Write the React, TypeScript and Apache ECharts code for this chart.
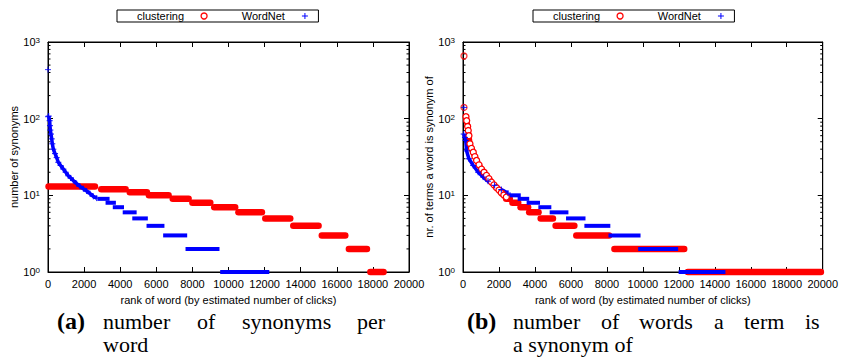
import React, { useEffect, useRef } from 'react';
import * as echarts from 'echarts';

const FONT = "'Liberation Sans Narrow', 'Liberation Sans', Arial, sans-serif";
const SERIF = "'Liberation Serif', 'DejaVu Serif', serif";
const RED = '#ff0000';
const BLUE = '#0000ff';

const X_MIN = 0;
const X_MAX = 20000;
const X_INTERVAL = 2000;
const Y_MIN = 1;
const Y_MAX = 1000;
const minorTickValues = [2, 3, 4, 5, 6, 7, 8, 9, 20, 30, 40, 50, 60, 70, 80, 90, 200, 300, 400, 500, 600, 700, 800, 900];

const legendNames = ['clustering', 'WordNet'];

// (a) number of synonyms per word
// steps: [startRank, endRank, value]
const leftClusteringSteps = [
  [30, 2600, 13], [2950, 4300, 12], [4530, 5480, 11], [5590, 6680, 10],
  [6910, 7790, 9], [8000, 8990, 8], [9210, 10370, 7], [10550, 11850, 6],
  [12040, 13420, 5], [13590, 14990, 4], [15170, 16470, 3], [16670, 17670, 2],
  [17860, 18590, 1],
];
const leftWordNetIsolated = [[0, 436], [0, 106]];
const leftWordNetCurve = [
  [40, 108], [92, 94], [110, 81], [130, 71], [165, 63], [205, 54.5], [240, 47],
  [295, 40], [390, 35], [480, 31], [570, 27], [700, 24.5], [850, 22], [980, 20],
  [1125, 18], [1255, 16.9], [1400, 15.6], [1590, 14.2], [1770, 13.1], [1960, 12.2],
  [2140, 11.4], [2330, 10.5], [2510, 9.7], [2700, 9.2],
];
const leftWordNetSteps = [
  [2850, 3300, 9], [3300, 3650, 8], [3700, 4100, 7], [4250, 4800, 6],
  [4780, 5420, 5], [5570, 6340, 4], [6490, 7600, 3], [7730, 9390, 2],
  [9650, 12150, 1],
];

// (b) number of words a term is a synonym of
const rightClusteringIsolated = [[55, 657], [55, 140]];
const rightClusteringCurve = [
  [165, 106], [204, 94], [259, 79], [292, 70], [330, 60], [386, 47], [470, 41],
  [570, 36.5], [660, 32], [755, 28.5], [890, 25], [1030, 22], [1170, 20],
  [1305, 18.2], [1440, 16.5], [1580, 14.9], [1720, 13.7], [1860, 12.6],
  [2000, 11.7], [2130, 10.8], [2270, 10.1], [2410, 9.5],
];
const rightClusteringSteps = [
  [2400, 2600, 9], [2750, 3070, 8], [3200, 3620, 7], [3680, 4200, 6],
  [4320, 5000, 5], [5150, 6190, 4], [6300, 8120, 3], [8420, 12300, 2],
  [12500, 19900, 1],
];
const rightWordNetIsolated = [[55, 140]];
const rightWordNetCurve = [
  [40, 63], [110, 57], [150, 52], [200, 38], [330, 30], [570, 24.5], [845, 20],
  [1120, 17.3], [1390, 15.3], [1760, 13.5], [2130, 11.9], [2500, 10.7],
];
const rightWordNetSteps = [
  [2500, 3100, 10], [3150, 3570, 9], [3650, 4170, 8], [4300, 4800, 7],
  [4930, 5750, 6], [5840, 6700, 5], [6860, 8080, 4], [8200, 9760, 3],
  [9850, 11850, 2], [12100, 14480, 1],
];

const PLUS = 'path://M0,5L10,5M5,0L5,10';

function stepSeries(name: string, steps: number[][], color: string, width: number, cap: string, xi: number, yi: number) {
  return {
    name,
    type: 'custom',
    xAxisIndex: xi,
    yAxisIndex: yi,
    silent: true,
    clip: false,
    encode: { x: [0, 1], y: 2 },
    data: steps,
    itemStyle: { color },
    renderItem: (_p: any, api: any) => {
      const a = api.coord([api.value(0), api.value(2)]);
      const b = api.coord([api.value(1), api.value(2)]);
      return {
        type: 'line',
        shape: { x1: a[0], y1: a[1], x2: b[0], y2: b[1] },
        style: { stroke: color, lineWidth: width, lineCap: cap },
      };
    },
  };
}

function minorTickSeries(xi: number, yi: number) {
  return {
    type: 'custom',
    xAxisIndex: xi,
    yAxisIndex: yi,
    silent: true,
    clip: false,
    encode: { x: 0, y: 1 },
    data: minorTickValues.map((v) => [X_MIN, v]),
    renderItem: (_p: any, api: any) => {
      const v = api.value(1);
      const a = api.coord([X_MIN, v]);
      const b = api.coord([X_MAX, v]);
      return {
        type: 'group',
        children: [
          { type: 'line', shape: { x1: a[0], y1: a[1], x2: a[0] + 2.5, y2: a[1] }, style: { stroke: '#000', lineWidth: 1 } },
          { type: 'line', shape: { x1: b[0] - 2.5, y1: b[1], x2: b[0], y2: b[1] }, style: { stroke: '#000', lineWidth: 1 } },
        ],
      };
    },
  };
}

function curveLine(name: string, data: number[][], color: string, width: number, symbol: string, size: number, xi: number, yi: number, hollow: boolean) {
  return {
    name,
    type: 'line',
    xAxisIndex: xi,
    yAxisIndex: yi,
    data,
    silent: true,
    clip: false,
    symbol,
    symbolSize: size,
    showAllSymbol: true,
    lineStyle: { color, width, opacity: 1 },
    itemStyle: hollow
      ? { color: '#fff', borderColor: color, borderWidth: 1.3 }
      : { color: 'rgba(0,0,0,0)', borderColor: color, borderWidth: 1 },
  };
}

function scatter(name: string, data: number[][], color: string, symbol: string, size: number, xi: number, yi: number, hollow: boolean) {
  return {
    name,
    type: 'scatter',
    xAxisIndex: xi,
    yAxisIndex: yi,
    data,
    silent: true,
    clip: false,
    symbol,
    symbolSize: size,
    itemStyle: hollow
      ? { color: 'rgba(0,0,0,0)', borderColor: color, borderWidth: 1.3 }
      : { color: 'rgba(0,0,0,0)', borderColor: color, borderWidth: 1 },
  };
}

function xAxes(gridIndex: number) {
  const base = {
    gridIndex,
    type: 'value',
    min: X_MIN,
    max: X_MAX,
    interval: X_INTERVAL,
    splitLine: { show: false },
    axisLine: { show: true, onZero: false, lineStyle: { color: '#000', width: 1 } },
    axisTick: { show: true, inside: true, length: 5, lineStyle: { color: '#000' } },
  };
  return [
    {
      ...base,
      position: 'bottom',
      name: 'rank of word (by estimated number of clicks)',
      nameLocation: 'middle',
      nameGap: 22,
      nameTextStyle: { fontFamily: FONT, fontSize: 11, color: '#000' },
      axisLabel: { show: true, fontFamily: FONT, fontSize: 11, color: '#000', margin: 6, formatter: (v: number) => String(v) },
    },
    { ...base, position: 'top', axisLabel: { show: false } },
  ];
}

function yAxes(gridIndex: number, title: string, gap: number) {
  const base = {
    gridIndex,
    type: 'log',
    logBase: 10,
    min: Y_MIN,
    max: Y_MAX,
    splitLine: { show: false },
    axisLine: { show: true, onZero: false, lineStyle: { color: '#000', width: 1 } },
    axisTick: { show: true, inside: true, length: 5, lineStyle: { color: '#000' } },
  };
  return [
    {
      ...base,
      position: 'left',
      name: title,
      nameLocation: 'middle',
      nameGap: gap,
      nameTextStyle: { fontFamily: FONT, fontSize: 11, color: '#000' },
      axisLabel: {
        show: true,
        margin: 8,
        formatter: (v: number) => `{b|10}{s|${Math.round(Math.log10(v))}}`,
        rich: {
          b: { fontFamily: FONT, fontSize: 11, color: '#000' },
          s: { fontFamily: FONT, fontSize: 8, color: '#000', verticalAlign: 'top', lineHeight: 8 },
        },
      },
    },
    { ...base, position: 'right', axisLabel: { show: false } },
  ];
}

function legend(left: number) {
  return {
    left,
    top: 10,
    orient: 'horizontal',
    align: 'right',
    itemWidth: 30,
    itemHeight: 6,
    itemGap: 34,
    padding: [0, 10, 0, 20],
    borderColor: '#000',
    borderWidth: 1,
    selectedMode: false,
    textStyle: { fontFamily: FONT, fontSize: 11, color: '#000', lineHeight: 12 },
    data: [
      { name: legendNames[0], icon: 'circle', itemStyle: { color: 'rgba(0,0,0,0)', borderColor: RED, borderWidth: 1.3 } },
      { name: legendNames[1], icon: PLUS, itemStyle: { color: 'rgba(0,0,0,0)', borderColor: BLUE, borderWidth: 1 } },
    ],
  };
}

function captionWords(words: string[], xs: number[], y: number) {
  return words.map((w, i) => ({
    type: 'text',
    x: xs[i],
    y,
    style: { text: w, fontFamily: SERIF, fontSize: 22, fill: '#000', verticalAlign: 'middle' },
  }));
}

export default function App() {
  const ref = useRef<HTMLDivElement>(null);
  useEffect(() => {
    if (!ref.current) return;
    const chart = echarts.init(ref.current, undefined, { renderer: 'svg' });
    chart.setOption({
      animation: false,
      backgroundColor: '#fff',
      legend: [legend(117), legend(533)],
      grid: [
        { left: 48, top: 42, width: 361, height: 230, show: true, borderColor: '#000', borderWidth: 1, backgroundColor: 'transparent' },
        { left: 463, top: 42, width: 363, height: 230, show: true, borderColor: '#000', borderWidth: 1, backgroundColor: 'transparent' },
      ],
      xAxis: [...xAxes(0), ...xAxes(1)],
      yAxis: [...yAxes(0, 'number of synonyms', 27), ...yAxes(1, 'nr. of terms a word is synonym of', 24)],
      series: [
        minorTickSeries(0, 0),
        minorTickSeries(2, 2),
        // left chart
        stepSeries('clustering', leftClusteringSteps, RED, 6.5, 'round', 0, 0),
        stepSeries('WordNet', leftWordNetSteps, BLUE, 4, 'square', 0, 0),
        curveLine('WordNet', leftWordNetCurve, BLUE, 3.5, PLUS, 6, 0, 0, false),
        scatter('WordNet', leftWordNetIsolated, BLUE, PLUS, 6, 0, 0, false),
        // right chart
        scatter('clustering', rightClusteringIsolated, RED, 'circle', 6, 2, 2, true),
        curveLine('clustering', rightClusteringCurve, RED, 5.5, 'circle', 6, 2, 2, true),
        stepSeries('clustering', rightClusteringSteps, RED, 6.5, 'round', 2, 2),
        stepSeries('WordNet', rightWordNetSteps, BLUE, 4, 'square', 2, 2),
        curveLine('WordNet', rightWordNetCurve, BLUE, 3.5, PLUS, 6, 2, 2, false),
        scatter('WordNet', rightWordNetIsolated, BLUE, PLUS, 6, 2, 2, false),
      ],
      graphic: [
        { type: 'text', x: 57, y: 321, style: { text: '(a)', fontFamily: SERIF, fontSize: 24, fontWeight: 'bold', fill: '#000', verticalAlign: 'middle' } },
        ...captionWords(['number', 'of', 'synonyms', 'per'], [103, 197, 242, 357], 321),
        ...captionWords(['word'], [103], 344),
        { type: 'text', x: 467, y: 321, style: { text: '(b)', fontFamily: SERIF, fontSize: 24, fontWeight: 'bold', fill: '#000', verticalAlign: 'middle' } },
        ...captionWords(['number', 'of', 'words', 'a', 'term', 'is'], [513, 601, 639, 714, 744, 805], 321),
        ...captionWords(['a synonym of'], [513], 344),
      ],
    });
    return () => chart.dispose();
  }, []);
  return <div ref={ref} style={{ position: 'absolute', left: 0, top: 0, width: 841, height: 362, background: '#fff' }} />;
}
